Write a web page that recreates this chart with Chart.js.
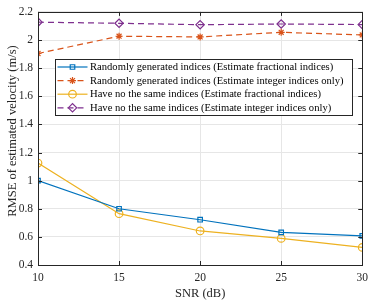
<!DOCTYPE html>
<html><head><meta charset="utf-8">
<script src="https://cdn.jsdelivr.net/npm/chart.js@4"></script>
<style>html,body{margin:0;padding:0;background:#fff}#c{display:block}</style>
</head><body>
<canvas id="c" width="374" height="301"></canvas>
<script>
const snr = [10, 15, 20, 25, 30];
const randFrac = [1.0, 0.80, 0.722, 0.632, 0.607];
const randInt = [1.904, 2.027, 2.022, 2.055, 2.036];
const noSameFrac = [1.125, 0.765, 0.642, 0.589, 0.525];
const noSameInt = [2.127, 2.119, 2.109, 2.114, 2.110];
const labels = [
  'Randomly generated indices (Estimate fractional indices)',
  'Randomly generated indices (Estimate integer indices only)',
  'Have no the same indices (Estimate fractional indices)',
  'Have no the same indices (Estimate integer indices only)'
];
const xTicks = [10, 15, 20, 25, 30];
const yTicks = [0.4, 0.6, 0.8, 1.0, 1.2, 1.4, 1.6, 1.8, 2.0, 2.2];
const xTitle = 'SNR (dB)';
const yTitle = 'RMSE of estimated velocity (m/s)';
const FONT = '"Liberation Serif", "DejaVu Serif", serif';

function mk(vals){ return snr.map((x,i)=>({x:x,y:vals[i]})); }
const colors = ['#0072BD','#D95319','#EDB120','#7E2F8E'];
const styles = ['rect','star','circle','rectRot'];
const dashes = [[],[6,4],[],[6,4]];
const radii = [3.2,3.5,3.8,4.2];
const series = [randFrac, randInt, noSameFrac, noSameInt];

const datasets = series.map((s,i)=>({
  label: labels[i], data: mk(s), borderColor: colors[i], backgroundColor:'rgba(0,0,0,0)',
  borderWidth: 1.2, borderDash: dashes[i], pointStyle: styles[i], pointRadius: radii[i],
  pointBorderColor: colors[i], pointBackgroundColor:'rgba(0,0,0,0)', pointBorderWidth: 1.2,
  tension: 0, fill:false
}));

const boxPlugin = {
  id:'box',
  afterDatasetsDraw(chart){
    const ctx = chart.ctx, a = chart.chartArea;
    const xs = chart.scales.x, ys = chart.scales.y;
    ctx.save();
    ctx.strokeStyle = '#262626'; ctx.lineWidth = 1; ctx.setLineDash([]);
    ctx.strokeRect(Math.round(a.left)+0.5, Math.round(a.top)+0.5, Math.round(a.right-a.left), Math.round(a.bottom-a.top));
    const L = 4;
    ctx.beginPath();
    xTicks.forEach(v=>{ const p = Math.round(xs.getPixelForValue(v))+0.5;
      ctx.moveTo(p,a.bottom); ctx.lineTo(p,a.bottom-L); ctx.moveTo(p,a.top); ctx.lineTo(p,a.top+L); });
    yTicks.forEach(v=>{ const p = Math.round(ys.getPixelForValue(v))+0.5;
      ctx.moveTo(a.left,p); ctx.lineTo(a.left+L,p); ctx.moveTo(a.right,p); ctx.lineTo(a.right-L,p); });
    ctx.stroke();
    // y title
    ctx.fillStyle = '#262626';
    ctx.font = '12.5px ' + FONT; ctx.textAlign = 'center'; ctx.textBaseline = 'middle';
    ctx.save(); ctx.translate(13, 131); ctx.rotate(-Math.PI/2); ctx.fillText(yTitle, 0, 0); ctx.restore();
    // legend
    const lx = 55.5, ly = 59.5, lw = 297, lh = 56;
    ctx.fillStyle = '#fff'; ctx.fillRect(lx, ly, lw, lh);
    ctx.strokeStyle = '#262626'; ctx.strokeRect(lx, ly, lw, lh);
    ctx.font = '10.6px ' + FONT; ctx.textBaseline = 'middle'; ctx.textAlign='left';
    chart.data.datasets.forEach((d,i)=>{
      const y = ly + 7.5 + i*13.6;
      ctx.strokeStyle = d.borderColor; ctx.lineWidth = 1.2; ctx.setLineDash(d.borderDash);
      ctx.beginPath(); ctx.moveTo(lx+2, y); ctx.lineTo(lx+32, y); ctx.stroke();
      ctx.setLineDash([]);
      ctx.strokeStyle = d.borderColor; ctx.fillStyle = 'rgba(0,0,0,0)';
      Chart.helpers.drawPoint(ctx, {pointStyle:d.pointStyle, radius:d.pointRadius, borderWidth:1.2}, lx+17, y);
      ctx.fillStyle = '#000';
      ctx.fillText(d.label, lx+34.5, y+0.5);
    });
    ctx.restore();
  }
};

new Chart(document.getElementById('c'), {
  type:'line',
  data:{datasets},
  options:{
    responsive:false, animation:false, devicePixelRatio:1,
    layout:{padding:{left:0,right:8,top:7,bottom:0}},
    plugins:{legend:{display:false}, tooltip:{enabled:false}},
    scales:{
      x:{type:'linear', min:10, max:30,
        afterBuildTicks(s){ s.ticks = xTicks.map(v=>({value:v})); },
        afterFit(s){ s.height = 36; },
        grid:{color:'#e6e6e6', drawTicks:false, lineWidth:1},
        border:{display:false},
        ticks:{padding:6, color:'#262626', font:{family:FONT,size:11.5}, maxRotation:0},
        title:{display:true, text:xTitle, color:'#262626', font:{family:FONT,size:12.5}, padding:{top:0,bottom:0}}
      },
      y:{type:'linear', min:0.4, max:2.2,
        afterBuildTicks(s){ s.ticks = yTicks.map(v=>({value:v})); },
        afterFit(s){ s.width = 38; },
        grid:{color:'#e6e6e6', drawTicks:false, lineWidth:1},
        border:{display:false},
        ticks:{padding:5, color:'#262626', font:{family:FONT,size:11.5},
          callback:(v)=>{ const r = Math.round(v*10)/10; return String(r); }},
        title:{display:false}
      }
    }
  },
  plugins:[boxPlugin]
});
</script>
</body></html>
